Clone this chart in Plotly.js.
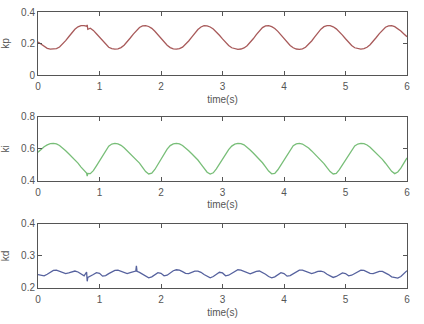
<!DOCTYPE html>
<html>
<head>
<meta charset="utf-8">
<script src="https://cdn.plot.ly/plotly-3.0.1.min.js"></script>
<style>html,body{margin:0;padding:0;background:#fff}#chart{width:424px;height:324px}</style>
</head>
<body>
<div id="chart"></div>
<script>
// time samples (s)
const time = [
 0,0.05,0.1,0.15,0.2,0.25,0.3,0.35,0.4,0.45,0.5,0.55,0.6,0.65,0.7,0.75,0.79,0.8,0.81,0.85,0.9,0.95,
 1,1.05,1.1,1.15,1.2,1.25,1.3,1.35,1.4,1.45,1.5,1.55,1.59,1.6,1.61,1.65,1.7,1.75,1.8,1.85,1.9,1.95,
 2,2.05,2.1,2.15,2.2,2.25,2.3,2.35,2.4,2.45,2.5,2.55,2.6,2.65,2.7,2.75,2.8,2.85,2.9,2.95,
 3,3.05,3.1,3.15,3.2,3.25,3.3,3.35,3.4,3.45,3.5,3.55,3.6,3.65,3.7,3.75,3.8,3.85,3.9,3.95,
 4,4.05,4.1,4.15,4.2,4.25,4.3,4.35,4.4,4.45,4.5,4.55,4.6,4.65,4.7,4.75,4.8,4.85,4.9,4.95,
 5,5.05,5.1,5.15,5.2,5.25,5.3,5.35,5.4,5.45,5.5,5.55,5.6,5.65,5.7,5.75,5.8,5.85,5.9,5.95,
 6
];
const kp = [
 0.210,0.196,0.181,0.169,0.164,0.164,0.168,0.178,0.195,0.218,0.243,0.268,0.290,0.306,0.314,0.314,0.310,0.318,0.290,0.297,0.283,0.262,
 0.240,0.216,0.193,0.176,0.167,0.164,0.166,0.174,0.189,0.210,0.235,0.260,0.279,0.284,0.288,0.302,0.312,0.314,0.308,0.296,0.278,0.256,
 0.233,0.210,0.189,0.174,0.166,0.164,0.167,0.177,0.194,0.216,0.241,0.266,0.289,0.305,0.313,0.312,0.305,0.292,0.274,0.252,
 0.229,0.206,0.187,0.173,0.166,0.163,0.165,0.172,0.186,0.206,0.230,0.256,0.281,0.301,0.312,0.313,0.307,0.295,0.277,0.255,
 0.232,0.208,0.188,0.173,0.165,0.163,0.166,0.176,0.193,0.216,0.242,0.268,0.291,0.307,0.314,0.313,0.306,0.293,0.275,0.253,
 0.230,0.207,0.187,0.173,0.166,0.164,0.167,0.176,0.192,0.213,0.238,0.263,0.286,0.303,0.312,0.313,0.307,0.295,0.279,0.261,
 0.243
];
const ki = [
 0.580,0.598,0.614,0.626,0.633,0.635,0.632,0.622,0.607,0.589,0.570,0.552,0.535,0.512,0.487,0.463,0.449,0.430,0.447,0.446,0.465,0.495,
 0.526,0.560,0.593,0.618,0.631,0.635,0.632,0.623,0.608,0.590,0.571,0.553,0.539,0.535,0.531,0.512,0.485,0.459,0.444,0.449,0.472,0.503,
 0.535,0.568,0.599,0.621,0.632,0.635,0.632,0.622,0.607,0.589,0.570,0.551,0.531,0.506,0.479,0.455,0.443,0.451,0.476,0.506,
 0.537,0.568,0.596,0.618,0.630,0.635,0.634,0.626,0.612,0.594,0.575,0.556,0.537,0.514,0.488,0.462,0.445,0.448,0.470,0.500,
 0.532,0.566,0.598,0.621,0.632,0.635,0.631,0.621,0.606,0.588,0.569,0.551,0.532,0.509,0.483,0.459,0.444,0.448,0.471,0.501,
 0.533,0.566,0.596,0.619,0.631,0.635,0.633,0.625,0.611,0.593,0.574,0.555,0.535,0.511,0.485,0.460,0.446,0.456,0.480,0.511,
 0.544
];
const kd = [
 0.242,0.239,0.238,0.243,0.250,0.255,0.256,0.253,0.248,0.245,0.247,0.251,0.253,0.250,0.244,0.238,0.250,0.221,0.233,0.236,0.242,0.248,
 0.246,0.237,0.239,0.245,0.251,0.255,0.256,0.252,0.247,0.245,0.248,0.252,0.253,0.269,0.252,0.249,0.243,0.237,0.232,0.235,0.242,0.248,
 0.246,0.238,0.240,0.247,0.254,0.257,0.256,0.251,0.246,0.245,0.249,0.253,0.253,0.249,0.242,0.236,0.232,0.236,0.243,0.249,
 0.247,0.238,0.240,0.246,0.252,0.257,0.256,0.252,0.246,0.244,0.248,0.252,0.253,0.249,0.243,0.236,0.232,0.235,0.242,0.248,
 0.245,0.237,0.239,0.245,0.252,0.256,0.256,0.252,0.247,0.245,0.248,0.252,0.253,0.250,0.243,0.237,0.233,0.236,0.242,0.247,
 0.245,0.238,0.240,0.246,0.252,0.256,0.255,0.251,0.246,0.245,0.248,0.252,0.252,0.248,0.242,0.235,0.232,0.231,0.236,0.246,
 0.254
];
const xTicks = [0,1,2,3,4,5,6];
const yLabels = ['kp','ki','kd'];
const yRanges = [[0,0.4],[0.4,0.8],[0.2,0.4]];
const yTicks = [[0,0.2,0.4],[0.4,0.6,0.8],[0.2,0.3,0.4]];
const xTitle = 'time(s)';

const font = {family:'Liberation Sans, Arial, sans-serif', size:10, color:'#555'};
const colors = ['#a85a5a','#78be78','#56629e'];
const series = [kp, ki, kd];
const domains = [[0.7717,1],[0.3877,0.6196],[0,0.2319]];

const traces = series.map((s,i)=>({
  x: time, y: s, type:'scatter', mode:'lines',
  line:{color:colors[i], width:1.3},
  xaxis: i===0?'x':'x'+(i+1), yaxis: i===0?'y':'y'+(i+1),
  hoverinfo:'skip'
}));

const layout = {
  width:424, height:324,
  margin:{l:38,r:17,t:12,b:36},
  paper_bgcolor:'#fff', plot_bgcolor:'#fff',
  showlegend:false, font:font
};
for (let i=0;i<3;i++){
  const sx = i===0?'':(i+1);
  layout['xaxis'+sx] = {
    domain:[0,1], range:[0,6], tickvals:xTicks, ticktext:xTicks.map(String),
    ticks:'inside', ticklen:4, tickcolor:'#555', showline:true, linecolor:'#555', linewidth:1,
    mirror:'ticks', showgrid:false, zeroline:false, anchor:'y'+sx, ticklabelstandoff:2,
    title:{text:xTitle, font:font, standoff:4}, tickfont:font
  };
  layout['yaxis'+sx] = {
    domain:domains[i], range:yRanges[i], tickvals:yTicks[i], ticktext:yTicks[i].map(String),
    ticks:'inside', ticklen:4, tickcolor:'#555', showline:true, linecolor:'#555', linewidth:1,
    mirror:'ticks', showgrid:false, zeroline:false, anchor:'x'+sx,
    title:{text:yLabels[i], font:font, standoff:9}, tickfont:font
  };
}
Plotly.newPlot('chart', traces, layout, {displayModeBar:false, staticPlot:true});
</script>
</body>
</html>
